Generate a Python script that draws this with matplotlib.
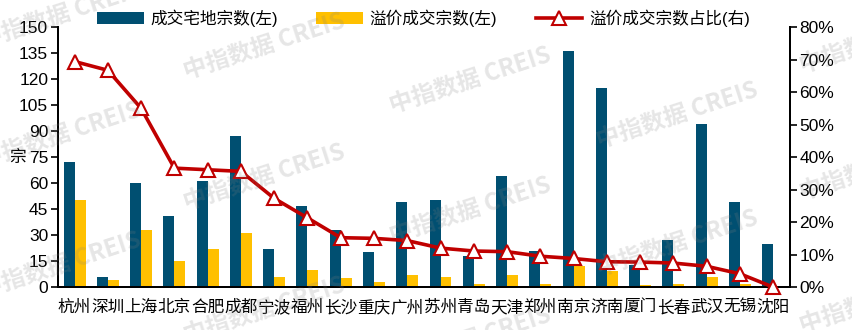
import matplotlib
matplotlib.use("Agg")
import matplotlib.pyplot as plt
import numpy as np
from matplotlib.ticker import FuncFormatter

plt.rcParams['font.family'] = ['Liberation Sans', 'Noto Sans CJK SC', 'DejaVu Sans']

cities = ['杭州', '深圳', '上海', '北京', '合肥', '成都', '宁波', '福州', '长沙', '重庆', '广州',
          '苏州', '青岛', '天津', '郑州', '南京', '济南', '厦门', '长春', '武汉', '无锡', '沈阳']
deals = [72, 6, 60, 41, 61, 87, 22, 47, 33, 20, 49,
         50, 18, 64, 21, 136, 115, 13, 27, 94, 49, 25]
premium_deals = [50, 4, 33, 15, 22, 31, 6, 10, 5, 3, 7,
                 6, 2, 7, 2, 12, 9, 1, 2, 6, 2, 0]
premium_share = [69.4, 66.7, 55.0, 36.6, 36.1, 35.6, 27.3, 21.3, 15.2, 15.0, 14.3,
                 12.0, 11.1, 10.9, 9.5, 8.8, 7.8, 7.7, 7.4, 6.4, 4.1, 0.0]
left_ticks = list(range(0, 151, 15))
right_ticks = list(range(0, 81, 10))

BLUE = '#004F71'
GOLD = '#FFC000'
RED = '#C00000'

fig = plt.figure(figsize=(8.52, 3.3), dpi=100)
ax = fig.add_axes([0.068, 0.130, 0.859, 0.788])
ax2 = ax.twinx()

x = np.arange(len(cities))
w = 0.33
ax.bar(x - w / 2, deals, w, color=BLUE, label='成交宅地宗数(左)', zorder=2)
ax.bar(x + w / 2, premium_deals, w, color=GOLD, label='溢价成交宗数(左)', zorder=2)
ax2.plot(x, premium_share, color=RED, lw=2.6, marker='^', ms=10, mfc='white',
         mec=RED, mew=1.5, label='溢价成交宗数占比(右)', clip_on=False, zorder=3)

ax.set_xlim(-0.5, len(cities) - 0.5)
ax.set_ylim(0, 150)
ax.set_yticks(left_ticks)
ax2.set_ylim(0, 80)
ax2.set_yticks(right_ticks)
ax2.yaxis.set_major_formatter(FuncFormatter(lambda v, p: f'{v:.0f}%'))

ax.set_xticks(x)
ax.set_xticklabels(cities, fontsize=12)
ax.tick_params(axis='x', length=0, pad=9)
ax.tick_params(axis='y', labelsize=12.5, length=5, width=1.2, direction='out', pad=2)
ax2.tick_params(axis='y', labelsize=12.5, length=5, width=1.2, direction='out', pad=2)

for a in (ax, ax2):
    a.spines['top'].set_visible(False)
    for s in ('left', 'right', 'bottom'):
        a.spines[s].set_linewidth(1.4)
ax.set_ylabel('宗', rotation=0, fontsize=12)
ax.yaxis.set_label_coords(-0.055, 0.47)

h1, l1 = ax.get_legend_handles_labels()
h2, l2 = ax2.get_legend_handles_labels()
fig.legend(h1 + h2, l1 + l2, loc='center', bbox_to_anchor=(0.497, 0.945), ncol=3,
           frameon=False, fontsize=12, handlelength=2.8, handleheight=0.7,
           columnspacing=2.3, handletextpad=0.4)

# watermark
wm_pos = [(60, 15), (60, 135), (60, 265), (264, 46), (264, 177), (264, 310),
          (470, 80), (470, 210), (470, 340), (677, 115), (677, 243),
          (880, 40), (880, 167), (880, 300)]
for px, py in wm_pos:
    fig.text(px / 852, 1 - py / 330, '中指数据 CREIS', fontsize=17, fontweight='bold',
             color='#808080', alpha=0.2, rotation=18, ha='center', va='center',
             family=['Noto Sans CJK SC', 'DejaVu Sans'], zorder=10)

fig.savefig('out.png', dpi=100)
